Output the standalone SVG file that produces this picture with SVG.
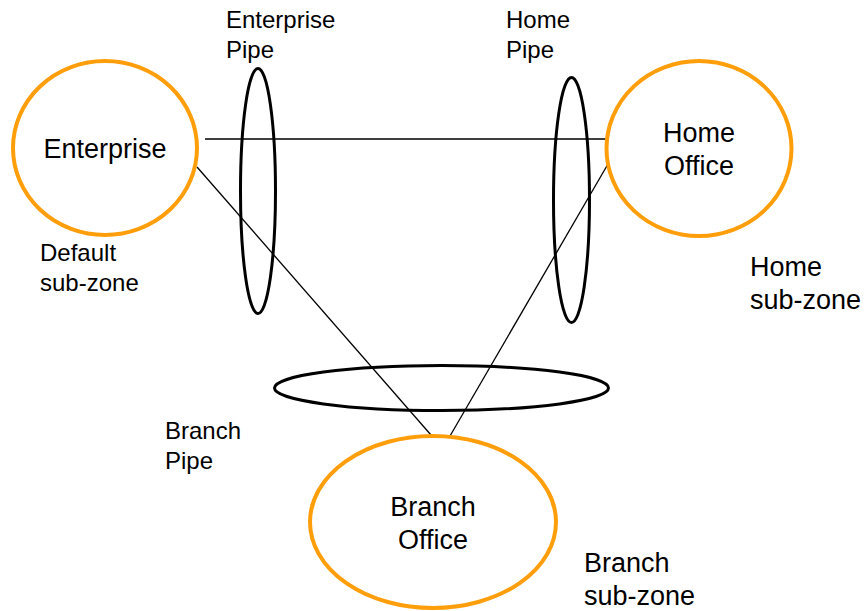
<svg xmlns="http://www.w3.org/2000/svg" width="866" height="611" viewBox="0 0 866 611">
<style>
.zone{fill:none;stroke:#FF9E0B;stroke-width:4}
.pipe{fill:none;stroke:#000;stroke-width:3}
.link{stroke:#000;stroke-width:1.3;fill:none}
text{font-family:"Liberation Sans",Arial,sans-serif;fill:#000}
.big{font-size:27px}
.lbl{font-size:24px}
</style>
<rect width="866" height="611" fill="#fff"/>
<g id="connectors">
<line class="link" x1="205" y1="139" x2="607" y2="139"/>
<line class="link" x1="197" y1="167" x2="431" y2="435"/>
<line class="link" x1="608" y1="164" x2="450" y2="436"/>
</g>
<g id="enterprise">
<ellipse class="zone" cx="105" cy="148" rx="92" ry="87"/>
<text class="big" x="105" y="158" text-anchor="middle">Enterprise</text>
</g>
<g id="home-office">
<ellipse class="zone" cx="699" cy="148.5" rx="92.5" ry="87.5"/>
<text class="big" x="699" y="142" text-anchor="middle">Home</text>
<text class="big" x="699" y="175" text-anchor="middle">Office</text>
</g>
<g id="branch-office">
<ellipse class="zone" cx="433" cy="522" rx="123" ry="86"/>
<text class="big" x="433" y="516" text-anchor="middle">Branch</text>
<text class="big" x="433" y="549" text-anchor="middle">Office</text>
</g>
<g id="enterprise-pipe">
<ellipse class="pipe" cx="258" cy="191" rx="17.5" ry="122.5"/>
<text class="lbl" x="226" y="28">Enterprise</text>
<text class="lbl" x="226" y="58">Pipe</text>
</g>
<g id="home-pipe">
<ellipse class="pipe" cx="571.5" cy="200" rx="18" ry="122.5"/>
<text class="lbl" x="506" y="28">Home</text>
<text class="lbl" x="506" y="58">Pipe</text>
</g>
<g id="branch-pipe">
<ellipse class="pipe" cx="441.5" cy="388" rx="167" ry="22.5"/>
<text class="lbl" x="165" y="439">Branch</text>
<text class="lbl" x="165" y="469">Pipe</text>
</g>
<g id="default-subzone">
<text class="lbl" x="40" y="261">Default</text>
<text class="lbl" x="40" y="291">sub-zone</text>
</g>
<g id="home-subzone">
<text class="big" x="750" y="276">Home</text>
<text class="big" x="750" y="309">sub-zone</text>
</g>
<g id="branch-subzone">
<text class="big" x="584" y="572">Branch</text>
<text class="big" x="584" y="605">sub-zone</text>
</g>
</svg>
